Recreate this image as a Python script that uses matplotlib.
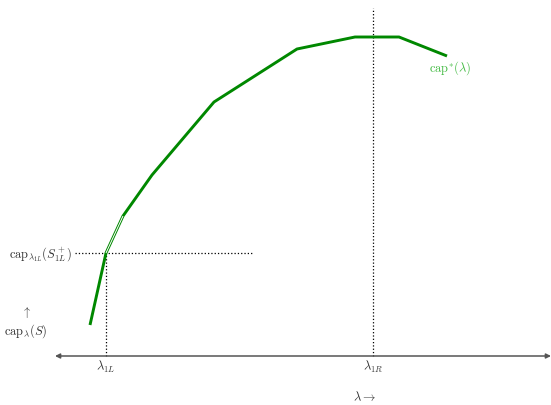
import numpy as np
import matplotlib.pyplot as plt

plt.rcParams['mathtext.fontset'] = 'cm'
plt.rcParams['font.family'] = 'serif'
plt.rcParams['font.serif'] = ['DejaVu Serif']

# capacity curve cap*(lambda), in drawing units
lam = [90, 106, 123, 152, 214, 297, 355, 399, 447]
cap = [80, 152, 189, 230, 303, 356, 368, 368, 349]

lam_1L = 106
lam_1R = 373
cap_1L = 152
axis_y = 49

fig = plt.figure(figsize=(5.51, 4.05), dpi=100)
ax = fig.add_axes([0, 0, 1, 1])
ax.set_xlim(0, 551)
ax.set_ylim(0, 405)
ax.axis('off')

green = '#008800'
txt = '#333333'

ax.plot(lam, cap, color=green, lw=2.1, solid_capstyle='butt', zorder=3)
# hollow piece just above the S+ point
ax.plot(lam[1:3], cap[1:3], color='white', lw=0.7, solid_capstyle='butt', zorder=4)

# lambda axis
ax.annotate('', xy=(55, axis_y), xytext=(551, axis_y),
            arrowprops=dict(arrowstyle='<|-|>', color='#555555', lw=1.1,
                            mutation_scale=7, shrinkA=0, shrinkB=0))

# guide lines
ax.plot([lam_1L, lam_1L], [axis_y, cap_1L], ls=':', color='black', lw=0.9)
ax.plot([75, 252], [cap_1L, cap_1L], ls=':', color='black', lw=0.9)
ax.plot([lam_1R, lam_1R], [axis_y, 397], ls=':', color='black', lw=0.9)

fs = 9
ax.text(lam_1L, 38, r'$\lambda_{1L}$', color=txt, fontsize=fs, ha='center', va='center')
ax.text(lam_1R, 38, r'$\lambda_{1R}$', color=txt, fontsize=fs, ha='center', va='center')
ax.text(365, 8, r'$\lambda \rightarrow$', color=txt, fontsize=fs, ha='center', va='center')
ax.text(72, 150, r'$\mathrm{cap}_{\lambda_{1L}}(S^+_{1L})$', color=txt, fontsize=fs,
        ha='right', va='center')
ax.text(26, 92, r'$\uparrow$', color=txt, fontsize=fs, ha='center', va='center')
ax.text(26, 74, r'$\mathrm{cap}_{\lambda}(S)$', color=txt, fontsize=fs, ha='center', va='center')
ax.text(450, 337, r'$\mathrm{cap}^{*}(\lambda)$', color='#44bb44', fontsize=fs,
        ha='center', va='center')

fig.savefig('out.png', dpi=100)
